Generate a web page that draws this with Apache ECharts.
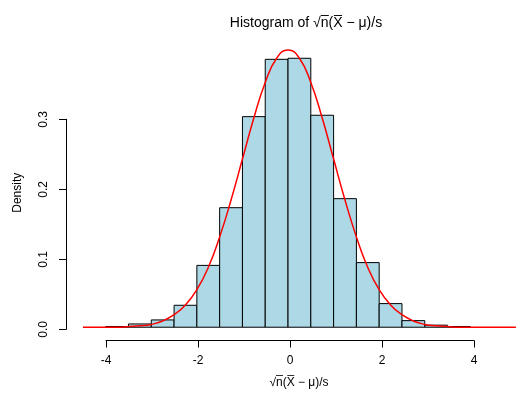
<!DOCTYPE html>
<html>
<head>
<meta charset="utf-8">
<script src="https://cdn.jsdelivr.net/npm/echarts@6/dist/echarts.min.js"></script>
<style>
  html, body { margin: 0; padding: 0; background: #fff; }
  #chart { width: 516px; height: 394px; }
</style>
</head>
<body>
<div id="chart"></div>
<script>
// histogram bins (width 0.5) and densities
var binStarts = [-4, -3.5, -3, -2.5, -2, -1.5, -1, -0.5, 0, 0.5, 1, 1.5, 2, 2.5, 3, 3.5];
var binWidth = 0.5;
var densities = [0.001, 0.0047, 0.0105, 0.0316, 0.089, 0.172, 0.303, 0.3855,
                 0.387, 0.305, 0.185, 0.093, 0.034, 0.0095, 0.003, 0.001];

// red density curve
var curveX = [-4.5, -4.25, -4, -3.75, -3.5, -3.25, -3, -2.75, -2.5, -2.25, -2, -1.75,
              -1.5, -1.25, -1, -0.75, -0.5, -0.25, 0, 0.25, 0.5, 0.75, 1, 1.25,
              1.5, 1.75, 2, 2.25, 2.5, 2.75, 3, 3.25, 3.5, 3.75, 4, 4.25, 4.5, 4.75, 5];
var curveY = [0.000, 0.000, 0.000, 0.000, 0.001, 0.002, 0.004, 0.009, 0.018, 0.032, 0.054, 0.086,
              0.130, 0.183, 0.242, 0.301, 0.352, 0.387, 0.399, 0.387, 0.352, 0.301, 0.242, 0.183,
              0.130, 0.086, 0.054, 0.032, 0.018, 0.009, 0.004, 0.002, 0.001, 0.000, 0.000, 0.000, 0.000, 0.000, 0.000];

var xTicks = [-4, -2, 0, 2, 4];
var yTicks = [0, 0.1, 0.2, 0.3];

var font = 'Liberation Sans, Arial, sans-serif';

var histData = binStarts.map(function (b, i) { return [b, b + binWidth, densities[i]]; });
var curveData = curveX.map(function (x, i) { return [x, curveY[i]]; });

var dom = document.getElementById('chart');
var myChart = echarts.init(dom);
var option = {
  animation: false,
  backgroundColor: '#fff',
  title: {
    text: 'Histogram of √n̅(X̅ − μ)/s',
    left: 301,
    textAlign: 'center',
    top: 11,
    textStyle: { fontFamily: font, fontSize: 14, fontWeight: 'normal', color: '#000' }
  },
  grid: [
    // plot region (data)
    { left: 82, width: 438, top: 47.5, bottom: 53.5 },
    // x axis, spans -4..4 only
    { left: 106, width: 368, top: 300, bottom: 53.5 },
    // y axis, spans 0..0.3 only
    { left: 66, width: 10, top: 119.3, height: 210 }
  ],
  xAxis: [{
    gridIndex: 0, type: 'value', min: -4.52, max: -4.52 + 438 / 46,
    name: '√n̅(X̅ − μ)/s', nameLocation: 'middle', nameGap: 39,
    nameTextStyle: { fontFamily: font, fontSize: 12, color: '#000' },
    axisLine: { show: false }, axisTick: { show: false }, axisLabel: { show: false }, splitLine: { show: false }
  }, {
    gridIndex: 1, type: 'value', min: xTicks[0], max: xTicks[xTicks.length - 1], interval: 2,
    axisLine: { show: true, onZero: false, lineStyle: { color: '#000', width: 1 } },
    axisTick: { show: true, length: 7, lineStyle: { color: '#000' } },
    axisLabel: { margin: 14, fontFamily: font, fontSize: 12, color: '#000' },
    splitLine: { show: false }
  }, {
    gridIndex: 2, type: 'value', show: false
  }],
  yAxis: [{
    gridIndex: 0, type: 'value', min: -0.0155, max: 0.4025,
    name: 'Density', nameLocation: 'middle', nameGap: 58,
    nameTextStyle: { fontFamily: font, fontSize: 12, color: '#000' },
    axisLine: { show: false }, axisTick: { show: false }, axisLabel: { show: false }, splitLine: { show: false }
  }, {
    gridIndex: 1, type: 'value', show: false
  }, {
    gridIndex: 2, type: 'value', min: yTicks[0], max: yTicks[yTicks.length - 1], interval: 0.1,
    axisLine: { show: true, onZero: false, lineStyle: { color: '#000', width: 1 } },
    axisTick: { show: true, length: 7, lineStyle: { color: '#000' } },
    axisLabel: { margin: 16, rotate: 90, fontFamily: font, fontSize: 12, color: '#000',
                 formatter: function (v) { return v.toFixed(1); } },
    splitLine: { show: false }
  }],
  series: [{
    type: 'custom',
    xAxisIndex: 0, yAxisIndex: 0,
    data: histData,
    encode: { x: [0, 1], y: 2 },
    renderItem: function (params, api) {
      var p0 = api.coord([api.value(0), 0]);
      var p1 = api.coord([api.value(1), api.value(2)]);
      return {
        type: 'rect',
        shape: { x: p0[0], y: p1[1], width: p1[0] - p0[0], height: p0[1] - p1[1] },
        style: { fill: '#ADD8E6', stroke: '#000', lineWidth: 1 }
      };
    }
  }, {
    type: 'line',
    xAxisIndex: 0, yAxisIndex: 0,
    data: curveData,
    smooth: true,
    showSymbol: false,
    clip: false,
    lineStyle: { color: '#FF0000', width: 1.5 },
    z: 5
  }]
};
myChart.setOption(option, true);
</script>
</body>
</html>
